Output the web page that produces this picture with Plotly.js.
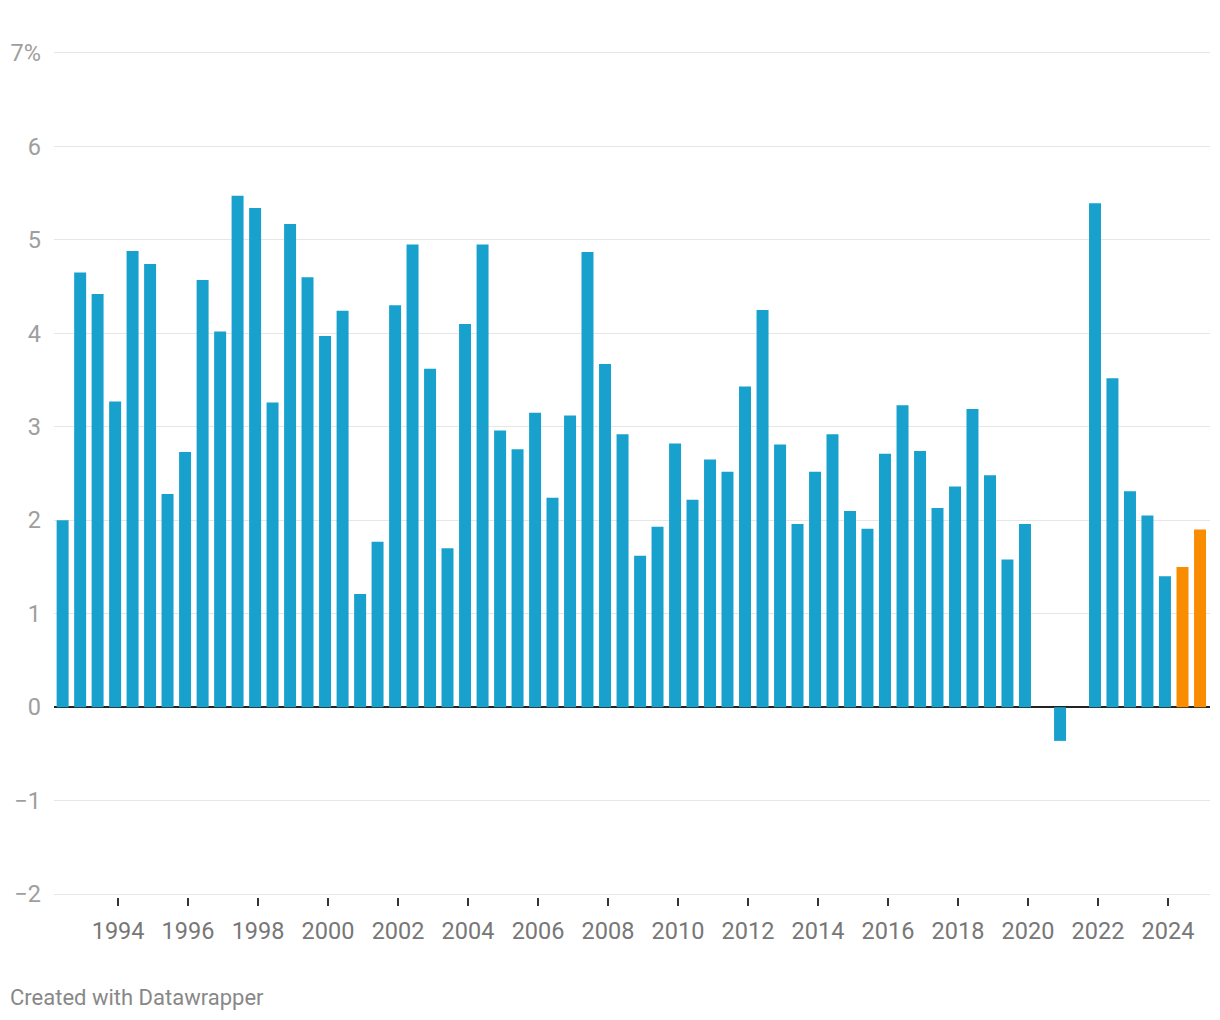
<!DOCTYPE html>
<html>
<head>
<meta charset="utf-8">
<script src="https://cdn.plot.ly/plotly-3.0.1.min.js"></script>
<style>
  html, body { margin: 0; padding: 0; background: #ffffff; }
  #chart { width: 1220px; height: 1020px; }
</style>
</head>
<body>
<div id="chart"></div>
<script>
// Half-year periods (actual values)
const periods = [
  "1992-06-01","1992-12-01","1993-06-01","1993-12-01","1994-06-01","1994-12-01",
  "1995-06-01","1995-12-01","1996-06-01","1996-12-01","1997-06-01","1997-12-01",
  "1998-06-01","1998-12-01","1999-06-01","1999-12-01","2000-06-01","2000-12-01",
  "2001-06-01","2001-12-01","2002-06-01","2002-12-01","2003-06-01","2003-12-01",
  "2004-06-01","2004-12-01","2005-06-01","2005-12-01","2006-06-01","2006-12-01",
  "2007-06-01","2007-12-01","2008-06-01","2008-12-01","2009-06-01","2009-12-01",
  "2010-06-01","2010-12-01","2011-06-01","2011-12-01","2012-06-01","2012-12-01",
  "2013-06-01","2013-12-01","2014-06-01","2014-12-01","2015-06-01","2015-12-01",
  "2016-06-01","2016-12-01","2017-06-01","2017-12-01","2018-06-01","2018-12-01",
  "2019-06-01","2019-12-01","2020-06-01","2020-12-01","2021-06-01","2021-12-01",
  "2022-06-01","2022-12-01","2023-06-01","2023-12-01"
];
const values = [
  2.00, 4.65, 4.42, 3.27, 4.88, 4.74,
  2.28, 2.73, 4.57, 4.02, 5.47, 5.34,
  3.26, 5.17, 4.60, 3.97, 4.24, 1.21,
  1.77, 4.30, 4.95, 3.62, 1.70, 4.10,
  4.95, 2.96, 2.76, 3.15, 2.24, 3.12,
  4.87, 3.67, 2.92, 1.62, 1.93, 2.82,
  2.22, 2.65, 2.52, 3.43, 4.25, 2.81,
  1.96, 2.52, 2.92, 2.10, 1.91, 2.71,
  3.23, 2.74, 2.13, 2.36, 3.19, 2.48,
  1.58, 1.96, null, -0.36, null, 5.39,
  3.52, 2.31, 2.05, 1.40
];
// Highlighted (orange) periods
const forecastPeriods = ["2024-06-01", "2024-12-01"];
const forecastValues = [1.50, 1.90];

// Axis ticks
const yTickVals = [-2, -1, 0, 1, 2, 3, 4, 5, 6, 7];
const yTickText = ["\u22122", "\u22121", "0", "1", "2", "3", "4", "5", "6", "7%"];

const BLUE = "#18a1cd";
const ORANGE = "#fa8c00";
const barWidthMs = 1.08e10;

const traces = [
  {
    type: "bar",
    x: periods,
    y: values,
    width: barWidthMs,
    marker: { color: BLUE, line: { width: 0 } },
    hoverinfo: "skip",
    showlegend: false
  },
  {
    type: "bar",
    x: forecastPeriods,
    y: forecastValues,
    width: barWidthMs,
    marker: { color: ORANGE, line: { width: 0 } },
    hoverinfo: "skip",
    showlegend: false
  }
];

const layout = {
  width: 1220,
  height: 1020,
  paper_bgcolor: "#ffffff",
  plot_bgcolor: "#ffffff",
  margin: { l: 54, r: 10, t: 50, b: 123.2, pad: 0 },
  barmode: "overlay",
  font: { family: "Roboto, 'Noto Sans', sans-serif", size: 23, color: "#888888" },
  showlegend: false,
  xaxis: {
    type: "date",
    range: ["1992-03-03", "2025-03-15"],
    tick0: "1994-01-01",
    dtick: "M24",
    tickformat: "%Y",
    ticks: "outside",
    ticklen: 7.5,
    tickwidth: 2,
    tickcolor: "#333333",
    tickfont: { family: "Roboto, sans-serif", size: 23.5, color: "#777777" },
    ticklabelstandoff: 5,
    showgrid: false,
    zeroline: false,
    showline: false,
    fixedrange: true
  },
  yaxis: {
    range: [-2.03, 7.03],
    tickvals: yTickVals,
    ticktext: yTickText,
    tickfont: { family: "Roboto, sans-serif", size: 23.5, color: "#9e9e9e" },
    ticks: "",
    ticklabelstandoff: 12,
    showgrid: true,
    gridcolor: "#e6e6e6",
    gridwidth: 1.3,
    zeroline: true,
    zerolinecolor: "#222222",
    zerolinewidth: 2.2,
    showline: false,
    fixedrange: true
  },
  annotations: [
    {
      text: "Created with Datawrapper",
      xref: "paper", yref: "paper",
      x: -46 / 1156, y: (896.8 - 997) / 846.7,
      xanchor: "left", yanchor: "middle",
      showarrow: false,
      font: { family: "Roboto, sans-serif", size: 22, color: "#888888" }
    }
  ]
};

Plotly.newPlot("chart", traces, layout, { displayModeBar: false, staticPlot: true });
</script>
</body>
</html>
